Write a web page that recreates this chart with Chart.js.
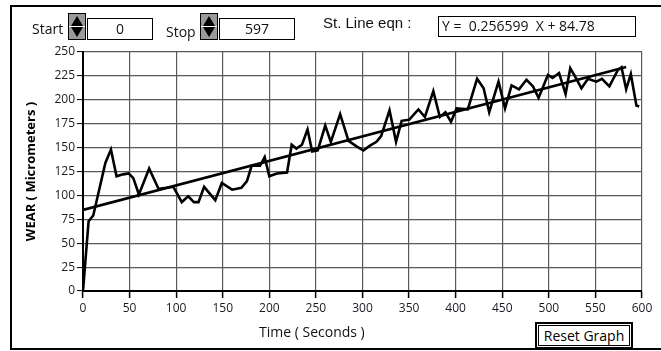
<!DOCTYPE html>
<html>
<head>
<meta charset="utf-8">
<script src="https://cdn.jsdelivr.net/npm/chart.js@4"></script>
<style>
    body { margin: 0; width: 661px; height: 351px; overflow: hidden; background: #fff; position: relative; font-family: "Open Sans", sans-serif; }
    #wear-chart { position: absolute; left: 0; top: 0; }
    .frame { position: absolute; left: 10px; top: 5px; width: 700px; height: 341px; border: 2.5px solid #000; }
    .lbl { position: absolute; font-size: 14px; line-height: 14px; color: #111; white-space: pre; }
    .box { position: absolute; border: 1.5px solid #000; background: #fff; font-size: 14px; line-height: 20px; text-align: center; color: #111; box-sizing: border-box; }
    .spin { position: absolute; width: 18px; height: 27px; border: 1px solid #000; box-sizing: border-box; background: #9a9a9a; }
    .spin .up, .spin .dn { position: absolute; left: 2px; width: 0; height: 0; border-left: 6px solid transparent; border-right: 6px solid transparent; }
    .spin .up { top: 2px; border-bottom: 10px solid #000; }
    .spin .dn { bottom: 2px; border-top: 10px solid #000; }
    .spin .mid { position: absolute; left: 0; right: 0; top: 12px; height: 1px; background: #fff; }
    .reset { position: absolute; left: 535px; top: 322px; width: 98px; height: 27px; border: 2px solid #000; box-sizing: border-box; background: #fff; }
    .reset span { position: absolute; left: 1px; top: 1px; right: 1px; bottom: 1px; border: 1px solid #000; font-size: 14px; line-height: 20px; text-align: center; }
</style>
</head>
<body>
<canvas id="wear-chart" width="661" height="351"></canvas>
<div class="frame"></div>

<div class="lbl" style="left:32px; top:22px;">Start</div>
<div class="spin" style="left:68px; top:13px;"><div class="up"></div><div class="mid"></div><div class="dn"></div></div>
<div class="box" style="left:87px; top:18px; width:66px; height:22px;">0</div>

<div class="lbl" style="left:166px; top:25px;">Stop</div>
<div class="spin" style="left:200px; top:13px;"><div class="up"></div><div class="mid"></div><div class="dn"></div></div>
<div class="box" style="left:219px; top:18px; width:76px; height:22px;">597</div>

<div class="lbl" style="left:323px; top:16px; font-family:'Liberation Sans', Arial, sans-serif; font-size:15px;">St. Line eqn :</div>
<div class="box" style="left:438px; top:16px; width:198px; height:21px; text-align:left; padding-left:3px; line-height:18px; white-space:pre;">Y =  0.256599  X + 84.78</div>

<div class="lbl" style="left:259px; top:325px;">Time ( Seconds )</div>
<div class="reset"><span>Reset Graph</span></div>

<script>
// Wear readings
var timeSeconds = [0, 6, 11, 24, 30, 36, 43, 49, 54, 60, 71, 81, 90, 97, 106, 113, 119, 124, 130, 142,
    149, 160, 165, 170, 176, 181, 190, 195, 200, 208, 219, 224, 229, 235, 241, 246, 252, 260, 266, 276,
    285, 294, 301, 308, 315, 320, 329, 336, 342, 350, 360, 367, 376, 383, 389, 395, 401, 413, 423, 430,
    436, 446, 453, 460, 468, 476, 483, 489, 499, 504, 511, 518, 523, 529, 535, 542, 551, 557, 565, 574,
    578, 583, 588, 594, 597];
var wearValues = [0, 73, 79, 134, 148, 120, 122, 123, 118, 101, 128, 107, 108, 109, 93, 99, 93, 93, 109, 95,
    113, 106, 107, 108, 115, 131, 131, 140, 120, 123, 124, 153, 149, 153, 169, 146, 147, 173, 156, 185,
    157, 151, 147, 152, 156, 162, 189, 156, 178, 179, 190, 182, 209, 182, 187, 177, 191, 190, 222, 212,
    187, 219, 191, 215, 211, 221, 214, 202, 226, 223, 228, 206, 233, 223, 212, 222, 219, 222, 214, 231,
    234, 211, 227, 194, 193];

// straight line fit end points
var fitX = [0, 583];
var fitY = [84.8, 234.4];

var xTicks = [0, 600, 50];   // min, max, step
var yTicks = [0, 250, 25];

var tickFont = { family: "Open Sans", size: 12 };

function toPoints(xs, ys) {
    var pts = [];
    for (var i = 0; i < xs.length; i++) {
        pts.push({ x: xs[i], y: ys[i] });
    }
    return pts;
}

var ctx = document.getElementById('wear-chart');
var wearChart = new Chart(ctx, {
    type: 'line',
    data: {
        datasets: [{
            label: 'Wear',
            data: toPoints(timeSeconds, wearValues),
            borderColor: '#000',
            borderWidth: 2.6,
            pointRadius: 0,
            tension: 0
        }, {
            label: 'Fit',
            data: toPoints(fitX, fitY),
            borderColor: '#000',
            borderWidth: 2.6,
            pointRadius: 0,
            tension: 0
        }]
    },
    options: {
        responsive: false,
        animation: false,
        layout: { padding: { top: 52, right: 19, bottom: 0, left: 0 } },
        plugins: { legend: { display: false }, tooltip: { enabled: false } },
        scales: {
            x: {
                type: 'linear',
                min: xTicks[0], max: xTicks[1],
                ticks: { stepSize: xTicks[2], font: tickFont, color: '#1a1a22', padding: 3, maxRotation: 0 },
                grid: { color: '#5a5a5a', lineWidth: 1.2, tickLength: 7, tickColor: '#000', tickWidth: 1.5 },
                border: { color: '#000', width: 2 },
                afterFit: function (s) { s.height = 60; }
            },
            y: {
                min: yTicks[0], max: yTicks[1],
                ticks: { stepSize: yTicks[2], font: tickFont, color: '#1a1a22', padding: 2 },
                grid: { color: '#5a5a5a', lineWidth: 1.2, tickLength: 6, tickColor: '#000', tickWidth: 1 },
                border: { color: '#000', width: 2 },
                title: {
                    display: true,
                    text: 'WEAR ( Micrometers )',
                    color: '#000',
                    font: { family: "Open Sans", size: 13, weight: 'bold' },
                    padding: { top: 23, bottom: 0 }
                },
                afterFit: function (s) { s.width = 83; }
            }
        }
    }
});
</script>
</body>
</html>
